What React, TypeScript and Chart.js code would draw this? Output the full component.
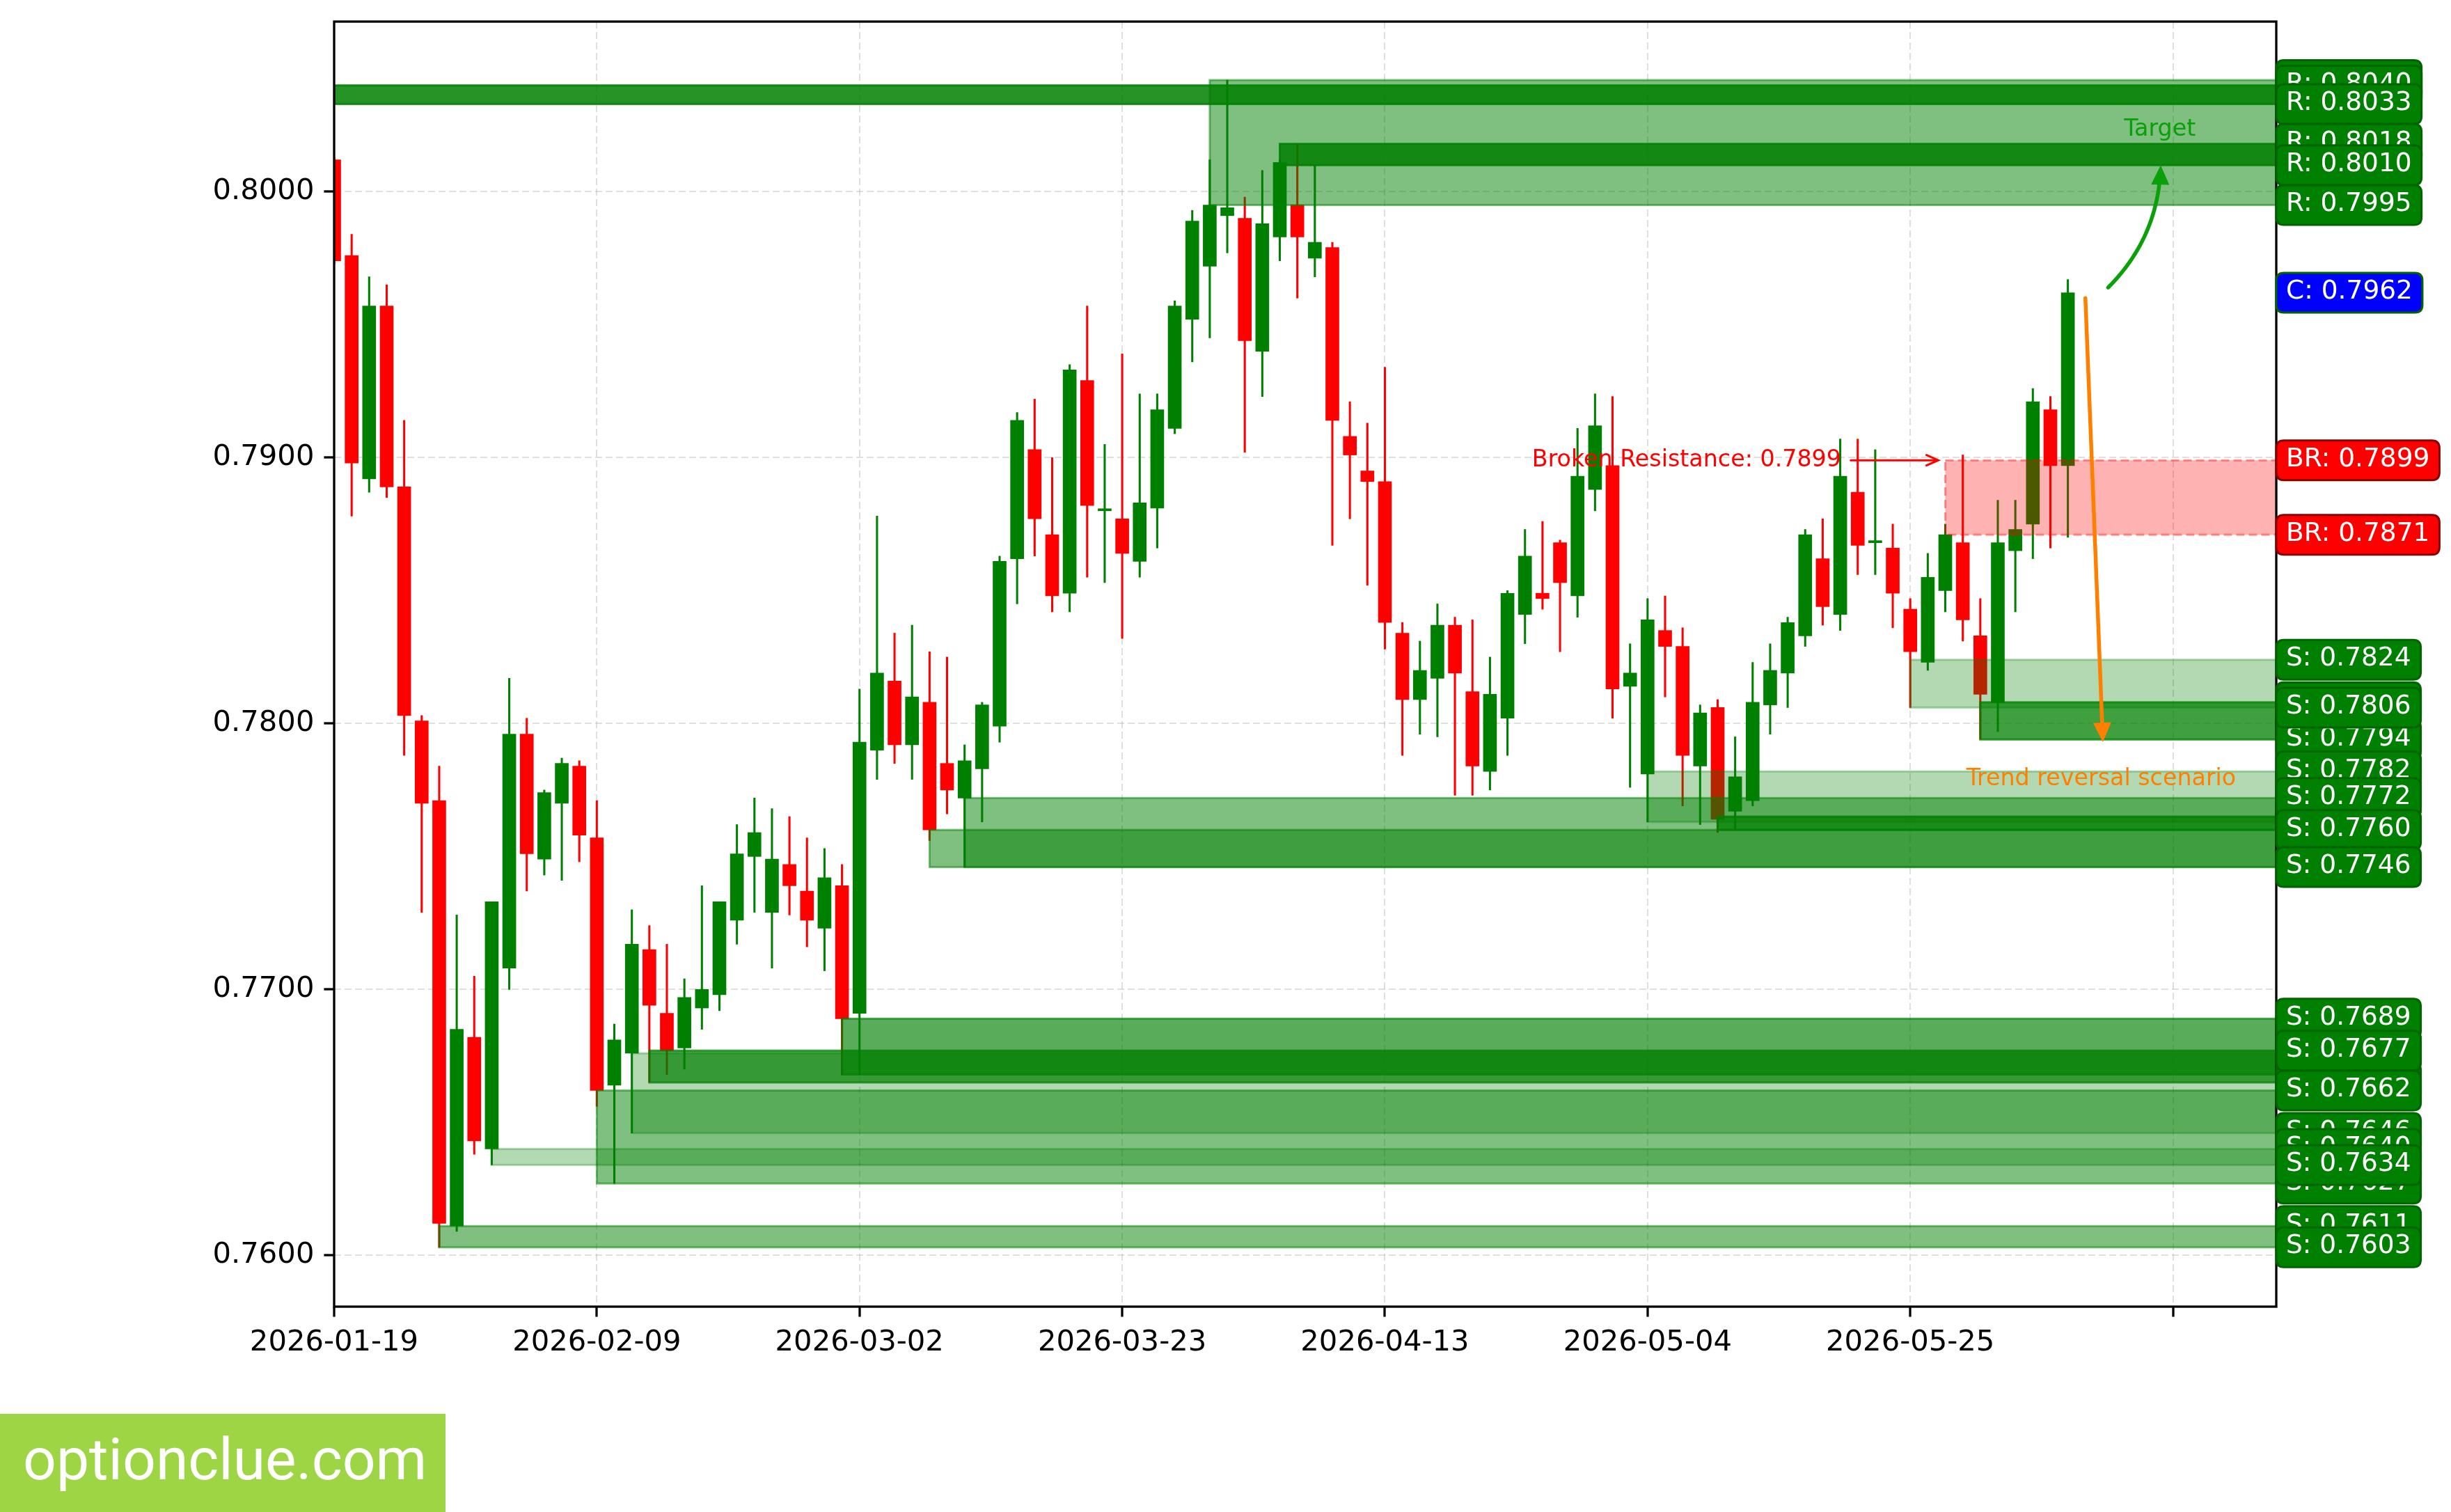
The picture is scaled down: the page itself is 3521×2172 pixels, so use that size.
import React, { useEffect, useRef } from 'react';
import { Chart, registerables } from 'chart.js';

Chart.register(...registerables);

const W = 3521;
const H = 2172;

// ---- candle data (index = trading day from 2026-01-19) ----
const opens = [0.8012,0.7976,0.7892,0.7957,0.7889,0.7801,0.7771,0.7611,0.7682,0.7640,
0.7708,0.7796,0.7749,0.7770,0.7784,0.7757,0.7664,0.7676,0.7715,0.7691,
0.7678,0.7693,0.7698,0.7726,0.7750,0.7729,0.7747,0.7737,0.7723,0.7739,
0.7691,0.7790,0.7816,0.7792,0.7808,0.7785,0.7772,0.7783,0.7799,0.7862,
0.7903,0.7871,0.7849,0.7929,0.7880,0.7877,0.7861,0.7881,0.7911,0.7952,
0.7972,0.7991,0.7990,0.7940,0.7983,0.7995,0.7975,0.7979,0.7908,0.7895,
0.7891,0.7834,0.7809,0.7817,0.7837,0.7812,0.7782,0.7802,0.7841,0.7849,
0.7868,0.7848,0.7888,0.7897,0.7814,0.7781,0.7835,0.7829,0.7784,0.7806,
0.7767,0.7771,0.7807,0.7819,0.7833,0.7862,0.7841,0.7887,0.7868,0.7866,
0.7843,0.7823,0.7850,0.7868,0.7833,0.7808,0.7865,0.7875,0.7918,0.7897];
const highs = [0.8013,0.7984,0.7968,0.7965,0.7914,0.7803,0.7784,0.7728,0.7705,0.7733,
0.7817,0.7802,0.7775,0.7787,0.7786,0.7771,0.7687,0.7730,0.7724,0.7717,
0.7704,0.7739,0.7733,0.7762,0.7772,0.7768,0.7765,0.7757,0.7753,0.7747,
0.7813,0.7878,0.7834,0.7837,0.7827,0.7825,0.7792,0.7808,0.7863,0.7917,
0.7922,0.7900,0.7935,0.7957,0.7905,0.7939,0.7924,0.7924,0.7959,0.7993,
0.8012,0.8042,0.7998,0.8008,0.8012,0.8018,0.8010,0.7981,0.7921,0.7913,
0.7934,0.7838,0.7831,0.7845,0.7840,0.7839,0.7825,0.7850,0.7873,0.7876,
0.7869,0.7911,0.7924,0.7923,0.7830,0.7847,0.7848,0.7836,0.7807,0.7809,
0.7795,0.7823,0.7830,0.7840,0.7873,0.7877,0.7907,0.7907,0.7903,0.7875,
0.7847,0.7864,0.7875,0.7901,0.7847,0.7884,0.7884,0.7926,0.7923,0.7967];
const lows = [0.7973,0.7878,0.7887,0.7885,0.7788,0.7729,0.7603,0.7609,0.7638,0.7634,
0.7700,0.7737,0.7743,0.7741,0.7748,0.7656,0.7627,0.7646,0.7665,0.7668,
0.7670,0.7685,0.7692,0.7717,0.7729,0.7708,0.7728,0.7716,0.7707,0.7668,
0.7668,0.7779,0.7785,0.7779,0.7756,0.7766,0.7746,0.7763,0.7793,0.7845,
0.7863,0.7842,0.7842,0.7855,0.7853,0.7832,0.7855,0.7866,0.7909,0.7936,
0.7945,0.7977,0.7902,0.7923,0.7974,0.7960,0.7968,0.7867,0.7877,0.7852,
0.7828,0.7788,0.7796,0.7795,0.7773,0.7773,0.7775,0.7788,0.7830,0.7843,
0.7827,0.7840,0.7880,0.7802,0.7776,0.7763,0.7810,0.7769,0.7762,0.7759,
0.7760,0.7769,0.7796,0.7806,0.7829,0.7837,0.7835,0.7856,0.7856,0.7836,
0.7806,0.7820,0.7842,0.7831,0.7794,0.7797,0.7842,0.7862,0.7866,0.7870];
const closes = [0.7974,0.7898,0.7957,0.7889,0.7803,0.7770,0.7612,0.7685,0.7643,0.7733,
0.7796,0.7751,0.7774,0.7785,0.7758,0.7662,0.7681,0.7717,0.7694,0.7677,
0.7697,0.7700,0.7733,0.7751,0.7759,0.7749,0.7739,0.7726,0.7742,0.7689,
0.7793,0.7819,0.7792,0.7810,0.7760,0.7775,0.7786,0.7807,0.7861,0.7914,
0.7877,0.7848,0.7933,0.7882,0.7880,0.7864,0.7883,0.7918,0.7957,0.7989,
0.7995,0.7994,0.7944,0.7988,0.8011,0.7983,0.7981,0.7914,0.7901,0.7891,
0.7838,0.7809,0.7820,0.7837,0.7819,0.7784,0.7811,0.7849,0.7863,0.7847,
0.7853,0.7893,0.7912,0.7813,0.7819,0.7839,0.7829,0.7788,0.7804,0.7764,
0.7780,0.7808,0.7820,0.7838,0.7871,0.7844,0.7893,0.7867,0.7868,0.7849,
0.7827,0.7855,0.7871,0.7839,0.7811,0.7868,0.7873,0.7921,0.7897,0.7962];

// ---- axis ticks ----
const xTickPositions = [0, 15, 30, 45, 60, 75, 90, 105];
const xTickLabels = ['2026-01-19', '2026-02-09', '2026-03-02', '2026-03-23', '2026-04-13', '2026-05-04', '2026-05-25', ''];
const yTickValues = [0.76, 0.77, 0.78, 0.79, 0.80];
const xMin = 0;
const xMax = 110.9;
const yMin = 0.75807;
const yMax = 0.8064;

// ---- support / resistance zones (green) ----
const zoneStarts = [-1, 50, 54, 6, 9, 15, 17, 18, 29, 34, 36, 75, 79, 90, 94];
const zoneLows = [0.8033, 0.7995, 0.8010, 0.7603, 0.7634, 0.7627, 0.7646, 0.7665, 0.7668, 0.7746, 0.7746, 0.7763, 0.7760, 0.7806, 0.7794];
const zoneHighs = [0.8040, 0.8042, 0.8018, 0.7611, 0.7640, 0.7662, 0.7676, 0.7677, 0.7689, 0.7760, 0.7772, 0.7782, 0.7765, 0.7824, 0.7808];
const zoneAlphas = [0.85, 0.5, 0.85, 0.5, 0.3, 0.5, 0.3, 0.7, 0.65, 0.5, 0.5, 0.3, 0.8, 0.3, 0.75];

// ---- broken resistance zone (red) ----
const brokenStart = 92;
const brokenLow = 0.7871;
const brokenHigh = 0.7899;

// ---- right-hand level labels (draw order) ----
const levelKinds = ['R','R','R','R','R','R','C','BR','BR','S','S','S','S','S','S','S','S','S','S','S','S','S','S','S','S','S','S'];
const levelValues = [0.8042,0.8040,0.8033,0.8018,0.8010,0.7995,0.7962,0.7899,0.7871,0.7824,0.7808,0.7794,0.7806,0.7782,0.7772,0.7760,0.7746,0.7689,0.7665,0.7677,0.7662,0.7646,0.7627,0.7640,0.7634,0.7611,0.7603];

// ---- annotations ----
const brokenText = 'Broken Resistance: 0.7899';
const brokenTextPos = [68.4, 0.7900];
const brokenArrow = [86.6, 0.7899, 91.6, 0.7899];
const targetText = 'Target';
const targetTextPos = [104.25, 0.80243];
const targetArrow = [101.3, 0.7964, 104.3, 0.8010];
const reversalText = 'Trend reversal scenario';
const reversalTextPos = [100.9, 0.7780];
const reversalArrow = [100.0, 0.7960, 101.0, 0.7793];
const watermarkText = 'optionclue.com';

const GREEN = '#008000';
const RED = '#ff0000';
const TICK_FONT = 41.7;
const LABEL_FONT = 37.5;
const ANNOT_FONT = 33.3;
const FONT = '"DejaVu Sans", sans-serif';
const ARROW_GREEN = 'rgb(10,160,10)';
const ORANGE = '#ff8000';

function roundRect(ctx: CanvasRenderingContext2D, x: number, y: number, w: number, h: number, r: number) {
  ctx.beginPath();
  ctx.moveTo(x + r, y);
  ctx.lineTo(x + w - r, y);
  ctx.quadraticCurveTo(x + w, y, x + w, y + r);
  ctx.lineTo(x + w, y + h - r);
  ctx.quadraticCurveTo(x + w, y + h, x + w - r, y + h);
  ctx.lineTo(x + r, y + h);
  ctx.quadraticCurveTo(x, y + h, x, y + h - r);
  ctx.lineTo(x, y + r);
  ctx.quadraticCurveTo(x, y, x + r, y);
  ctx.closePath();
}

function filledHead(ctx: CanvasRenderingContext2D, tx: number, ty: number, dx: number, dy: number, len: number, half: number, color: string) {
  const n = Math.hypot(dx, dy) || 1;
  const ux = dx / n, uy = dy / n;
  const bx = tx - ux * len, by = ty - uy * len;
  ctx.beginPath();
  ctx.moveTo(tx, ty);
  ctx.lineTo(bx - uy * half, by + ux * half);
  ctx.lineTo(bx + uy * half, by - ux * half);
  ctx.closePath();
  ctx.fillStyle = color;
  ctx.fill();
}

function centeredText(ctx: CanvasRenderingContext2D, text: string, x: number, cy: number, size: number, color: string, align: CanvasTextAlign) {
  ctx.font = `${size}px ${FONT}`;
  ctx.fillStyle = color;
  ctx.textAlign = align;
  ctx.textBaseline = 'alphabetic';
  ctx.fillText(text, x, cy + size * 0.729 / 2);
}

const overlayPlugin = {
  id: 'overlay',
  afterDatasetsDraw(chart: any) {
    const { ctx, chartArea: a } = chart;
    const xs = chart.scales.x;
    const ys = chart.scales.y;
    ctx.save();
    ctx.beginPath();
    ctx.rect(a.left, a.top, a.right - a.left, a.bottom - a.top);
    ctx.clip();
    for (let k = 0; k < zoneStarts.length; k++) {
      const x0 = xs.getPixelForValue(zoneStarts[k]);
      const x1 = a.right;
      const yt = ys.getPixelForValue(zoneHighs[k]);
      const yb = ys.getPixelForValue(zoneLows[k]);
      const c = `rgba(0,128,0,${zoneAlphas[k]})`;
      ctx.fillStyle = c;
      ctx.fillRect(x0, yt, x1 - x0, yb - yt);
      ctx.strokeStyle = c;
      ctx.lineWidth = 3;
      ctx.strokeRect(x0, yt, x1 - x0, yb - yt);
    }
    // broken resistance zone
    {
      const x0 = xs.getPixelForValue(brokenStart);
      const yt = ys.getPixelForValue(brokenHigh);
      const yb = ys.getPixelForValue(brokenLow);
      ctx.fillStyle = 'rgba(255,0,0,0.3)';
      ctx.fillRect(x0, yt, a.right - x0, yb - yt);
      ctx.setLineDash([12, 6]);
      ctx.strokeStyle = 'rgba(255,0,0,0.4)';
      ctx.lineWidth = 3;
      ctx.strokeRect(x0, yt, a.right + 10 - x0, yb - yt);
      ctx.setLineDash([]);
    }

    // red arrow (broken resistance)
    {
      const sx = xs.getPixelForValue(brokenArrow[0]);
      const sy = ys.getPixelForValue(brokenArrow[1]);
      const tx = xs.getPixelForValue(brokenArrow[2]);
      const ty = ys.getPixelForValue(brokenArrow[3]);
      ctx.strokeStyle = RED;
      ctx.lineWidth = 3;
      ctx.lineCap = 'round';
      ctx.beginPath();
      ctx.moveTo(sx, sy);
      ctx.lineTo(tx, ty);
      ctx.moveTo(tx - 17, ty - 7.5);
      ctx.lineTo(tx, ty);
      ctx.lineTo(tx - 17, ty + 7.5);
      ctx.stroke();
    }
    // green curved arrow (target)
    {
      const sx = xs.getPixelForValue(targetArrow[0]);
      const sy = ys.getPixelForValue(targetArrow[1]);
      const tx = xs.getPixelForValue(targetArrow[2]);
      const ty = ys.getPixelForValue(targetArrow[3]);
      const dx = tx - sx, dy = ty - sy;
      const len = Math.hypot(dx, dy);
      const mx = (sx + tx) / 2, my = (sy + ty) / 2;
      const px = -dy / len, py = dx / len;
      const rad = 0.2;
      const cx = mx + px * rad * len, cy = my + py * rad * len;
      const q = (t: number) => [
        (1 - t) * (1 - t) * sx + 2 * (1 - t) * t * cx + t * t * tx,
        (1 - t) * (1 - t) * sy + 2 * (1 - t) * t * cy + t * t * ty,
      ];
      const headLen = 28;
      ctx.strokeStyle = ARROW_GREEN;
      ctx.lineWidth = 5.5;
      ctx.lineCap = 'round';
      ctx.beginPath();
      ctx.moveTo(sx, sy);
      for (let t = 0; t <= 1.0001; t += 0.01) {
        const [qx, qy] = q(t);
        if (Math.hypot(qx - tx, qy - ty) < headLen - 2) break;
        ctx.lineTo(qx, qy);
      }
      ctx.stroke();
      filledHead(ctx, tx, ty, tx - cx, ty - cy, headLen, 13, ARROW_GREEN);
    }
    // orange arrow (trend reversal)
    {
      const sx = xs.getPixelForValue(reversalArrow[0]);
      const sy = ys.getPixelForValue(reversalArrow[1]);
      const tx = xs.getPixelForValue(reversalArrow[2]);
      const ty = ys.getPixelForValue(reversalArrow[3]);
      const dx = tx - sx, dy = ty - sy;
      const n = Math.hypot(dx, dy);
      const headLen = 28;
      ctx.strokeStyle = ORANGE;
      ctx.lineWidth = 5.5;
      ctx.lineCap = 'round';
      ctx.beginPath();
      ctx.moveTo(sx, sy);
      ctx.lineTo(tx - (dx / n) * (headLen - 2), ty - (dy / n) * (headLen - 2));
      ctx.stroke();
      filledHead(ctx, tx, ty, dx, dy, headLen, 13, ORANGE);
    }
    // annotation texts
    centeredText(ctx, brokenText, xs.getPixelForValue(brokenTextPos[0]), ys.getPixelForValue(brokenTextPos[1]), ANNOT_FONT, RED, 'left');
    centeredText(ctx, targetText, xs.getPixelForValue(targetTextPos[0]), ys.getPixelForValue(targetTextPos[1]), ANNOT_FONT, ARROW_GREEN, 'center');
    centeredText(ctx, reversalText, xs.getPixelForValue(reversalTextPos[0]), ys.getPixelForValue(reversalTextPos[1]), ANNOT_FONT, ORANGE, 'center');
    ctx.restore();
  },
  afterDraw(chart: any) {
    const { ctx, chartArea: a } = chart;
    const ys = chart.scales.y;
    ctx.save();
    // frame
    ctx.strokeStyle = '#000';
    ctx.lineWidth = 3.3;
    ctx.strokeRect(a.left, a.top, a.right - a.left, a.bottom - a.top);

    // level labels
    const bh = 57;
    ctx.font = `${LABEL_FONT}px ${FONT}`;
    for (let k = 0; k < levelValues.length; k++) {
      const kind = levelKinds[k];
      const v = levelValues[k];
      const text = `${kind}: ${v.toFixed(4)}`;
      const bw = ctx.measureText(text).width + 28;
      const cy = ys.getPixelForValue(v);
      const fill = kind === 'C' ? '#0000ff' : kind === 'BR' ? '#ff0000' : GREEN;
      const edge = kind === 'BR' ? '#8b0000' : '#006400';
      roundRect(ctx, a.right, cy - bh / 2, bw, bh, 11);
      ctx.fillStyle = fill;
      ctx.fill();
      ctx.lineWidth = 3;
      ctx.strokeStyle = edge;
      ctx.stroke();
      ctx.fillStyle = '#fff';
      ctx.textAlign = 'center';
      ctx.textBaseline = 'alphabetic';
      ctx.fillText(text, a.right + bw / 2, cy + 8.5);
    }

    // watermark
    ctx.fillStyle = 'rgb(158,213,69)';
    ctx.fillRect(0, 2031, 640, H - 2031);
    ctx.font = '84px Roboto, "DejaVu Sans", sans-serif';
    ctx.fillStyle = '#fff';
    ctx.textAlign = 'left';
    ctx.textBaseline = 'alphabetic';
    ctx.fillText(watermarkText, 33, 2125);
    ctx.restore();
  },
};

export default function App() {
  const ref = useRef<HTMLCanvasElement>(null);
  useEffect(() => {
    document.body.style.margin = '0';
    let chart: Chart | null = null;
    let cancelled = false;
    const colors = opens.map((o, i) => (closes[i] >= o ? GREEN : RED));
    const bodies = opens.map((o, i) => ({ x: i, y: [o, closes[i]] }));
    const wicks = opens.map((_, i) => ({ x: i, y: [lows[i], highs[i]] }));
    const build = () => {
      if (cancelled || !ref.current) return;
      chart = new Chart(ref.current, {
        type: 'bar',
        data: {
          datasets: [
            {
              label: 'wick',
              data: wicks as any,
              backgroundColor: colors,
              barThickness: 2.4,
              grouped: false,
              order: 2,
              clip: 0,
            } as any,
            {
              label: 'body',
              data: bodies as any,
              backgroundColor: colors,
              barThickness: 19,
              grouped: false,
              minBarLength: 3,
              order: 1,
              clip: 0,
            } as any,
          ],
        },
        options: {
          responsive: false,
          animation: false,
          devicePixelRatio: 1,
          layout: { padding: { left: 0, top: 31, right: W - 3270, bottom: 0 } },
          plugins: { legend: { display: false }, tooltip: { enabled: false } },
          scales: {
            x: {
              type: 'linear',
              min: xMin,
              max: xMax,
              offset: false,
              afterBuildTicks: (s: any) => {
                s.ticks = xTickPositions.map((v) => ({ value: v }));
              },
              afterFit: (s: any) => {
                s.height = H - 1877;
                s.paddingLeft = 0;
                s.paddingRight = 0;
              },
              ticks: {
                autoSkip: false,
                maxRotation: 0,
                color: '#000',
                padding: 13,
                font: { family: 'DejaVu Sans', size: TICK_FONT },
                callback: (v: any) => {
                  const k = xTickPositions.indexOf(Number(v));
                  return k >= 0 ? xTickLabels[k] : '';
                },
              },
              grid: {
                offset: false,
                color: 'rgba(176,176,176,0.4)',
                lineWidth: 2,
                tickLength: 14.6,
                tickWidth: 3.3,
                tickColor: '#000',
              },
              border: { display: false, dash: [10, 5] },
            } as any,
            y: {
              type: 'linear',
              min: yMin,
              max: yMax,
              afterBuildTicks: (s: any) => {
                s.ticks = yTickValues.map((v) => ({ value: v }));
              },
              afterFit: (s: any) => {
                s.width = 480;
                s.paddingTop = 0;
                s.paddingBottom = 0;
              },
              ticks: {
                color: '#000',
                padding: 14,
                font: { family: 'DejaVu Sans', size: TICK_FONT },
                callback: (v: any) => Number(v).toFixed(4),
              },
              grid: {
                color: 'rgba(176,176,176,0.4)',
                lineWidth: 2,
                tickLength: 14.6,
                tickWidth: 3.3,
                tickColor: '#000',
              },
              border: { display: false, dash: [10, 5] },
            } as any,
          },
        },
        plugins: [overlayPlugin],
      } as any);
    };
    const fonts = [`${TICK_FONT}px "DejaVu Sans"`, '84px Roboto'];
    Promise.all(fonts.map((f) => (document as any).fonts.load(f)))
      .catch(() => null)
      .then(build);
    return () => {
      cancelled = true;
      if (chart) chart.destroy();
    };
  }, []);
  return (
    <div style={{ position: 'fixed', left: 0, top: 0, width: W, height: H, background: '#fff' }}>
      <canvas ref={ref} width={W} height={H} style={{ display: 'block', width: W, height: H }} />
    </div>
  );
}
